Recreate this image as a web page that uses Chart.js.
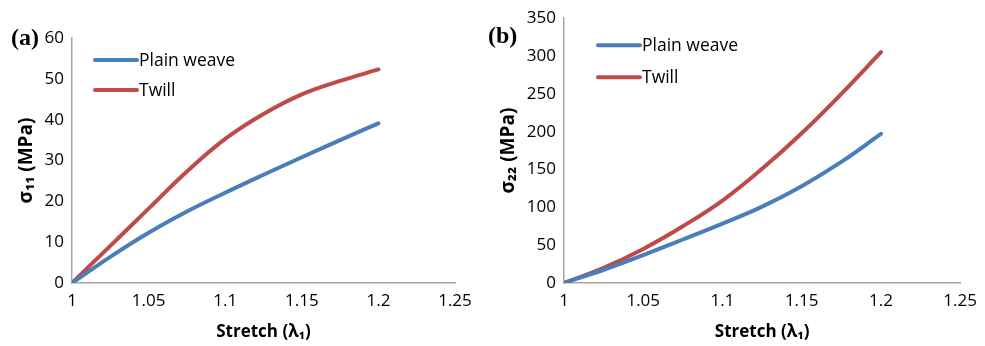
<!DOCTYPE html>
<html>
<head>
<meta charset="utf-8">
<script src="https://cdn.jsdelivr.net/npm/chart.js@4/dist/chart.umd.min.js"></script>
<style>
  body { margin: 0; background: #fff; }
  #page { position: relative; width: 985px; height: 346px; overflow: hidden; }
  .panel { position: absolute; top: 0; height: 346px; }
  .tag { position: absolute; font: bold 24px "Liberation Serif", "Times New Roman", serif; color: #000; line-height: 28px; }
</style>
</head>
<body>
<div id="page">
  <div class="panel" style="left:0;width:480px"><canvas id="chartA" width="480" height="346"></canvas></div>
  <div class="panel" style="left:480px;width:505px"><canvas id="chartB" width="505" height="346"></canvas></div>
  <div class="tag" style="left:11px;top:23px">(a)</div>
  <div class="tag" style="left:488px;top:21px">(b)</div>
</div>
<script>
var stretch = [1, 1.025, 1.05, 1.075, 1.1, 1.125, 1.15, 1.175, 1.2];

// (a) sigma_11 in MPa
var plainA = [0, 6.4, 12.3, 17.5, 22.1, 26.5, 30.8, 35.0, 39.1];
var twillA = [0, 9.1, 18.2, 27.3, 35.3, 41.4, 46.2, 49.5, 52.3];

// (b) sigma_22 in MPa
var plainB = [0, 17.5, 37, 57.5, 78.5, 101, 128, 160, 197];
var twillB = [0, 20, 45, 75, 109, 151, 198, 250, 305];

var seriesNames = ['Plain weave', 'Twill'];
var xTickLabels = ['1', '1.05', '1.1', '1.15', '1.2', '1.25'];

var BLUE = '#4a7ebb';
var RED  = '#be4b48';
var AXIS = '#a6a6a6';
var FONT = '"Open Sans", "Noto Sans", sans-serif';

function points(ys) {
  return ys.map(function(y, i) { return { x: stretch[i], y: y }; });
}

function dataset(label, ys, color) {
  return {
    label: label,
    data: points(ys),
    borderColor: color,
    backgroundColor: color,
    borderWidth: 4,
    borderCapStyle: 'round',
    pointRadius: 0,
    tension: 0.4,
    fill: false
  };
}

// legend drawn inside the plot, like the Excel original
var insideLegend = {
  id: 'insideLegend',
  afterDraw: function(chart, args, opts) {
    var ctx = chart.ctx, area = chart.chartArea;
    ctx.save();
    ctx.font = '17.5px ' + FONT;
    ctx.textBaseline = 'middle';
    ctx.lineCap = 'round';
    chart.data.datasets.forEach(function(ds, i) {
      var x = area.left + opts.dx, y = area.top + opts.dy + i * opts.gap;
      ctx.strokeStyle = ds.borderColor;
      ctx.lineWidth = 4;
      ctx.beginPath();
      ctx.moveTo(x, y);
      ctx.lineTo(x + 42, y);
      ctx.stroke();
      ctx.fillStyle = '#000';
      ctx.fillText(ds.label, x + 44, y + 1);
    });
    ctx.restore();
  }
};

function makeChart(id, cfg) {
  return new Chart(document.getElementById(id), {
    type: 'line',
    data: {
      datasets: [
        dataset(seriesNames[0], cfg.plain, BLUE),
        dataset(seriesNames[1], cfg.twill, RED)
      ]
    },
    plugins: [insideLegend],
    options: {
      responsive: false,
      animation: false,
      layout: { padding: { top: cfg.top, right: cfg.right, bottom: 0, left: 0 } },
      plugins: {
        legend: { display: false },
        tooltip: { enabled: false },
        insideLegend: cfg.legend
      },
      scales: {
        x: {
          type: 'linear',
          min: 1, max: 1.25,
          grid: { display: false, drawTicks: false },
          border: { display: true, color: AXIS, width: 1.5 },
          ticks: {
            stepSize: 0.05,
            padding: 8,
            color: '#000',
            font: { family: FONT, size: 17 },
            callback: function(v, i) { return xTickLabels[i]; }
          },
          title: {
            display: true,
            text: 'Stretch (λ₁)',
            color: '#000',
            font: { family: FONT, size: 17, weight: 'bold' },
            padding: { top: 0, bottom: 4 }
          },
          afterFit: function(s) { s.height = 63; }
        },
        y: {
          min: 0, max: cfg.ymax,
          grid: { display: false, drawTicks: false },
          border: { display: true, color: AXIS, width: 1.5 },
          ticks: {
            stepSize: cfg.ystep,
            padding: 8,
            color: '#000',
            font: { family: FONT, size: 17 }
          },
          title: {
            display: true,
            text: cfg.ytitle,
            color: '#000',
            font: { family: FONT, size: 19, weight: 'bold' },
            padding: { top: cfg.titlePad, bottom: 0 }
          },
          afterFit: function(s) { s.width = cfg.yWidth; }
        }
      }
    }
  });
}

makeChart('chartA', {
  plain: plainA, twill: twillA,
  ymax: 60, ystep: 10, ytitle: 'σ₁₁ (MPa)',
  top: 38, right: 25, yWidth: 72, titlePad: 15,
  legend: { dx: 23, dy: 22, gap: 30 }
});

makeChart('chartB', {
  plain: plainB, twill: twillB,
  ymax: 350, ystep: 50, ytitle: 'σ₂₂ (MPa)',
  top: 17, right: 18, yWidth: 84, titlePad: 17,
  legend: { dx: 34, dy: 27, gap: 32 }
});
</script>
</body>
</html>
